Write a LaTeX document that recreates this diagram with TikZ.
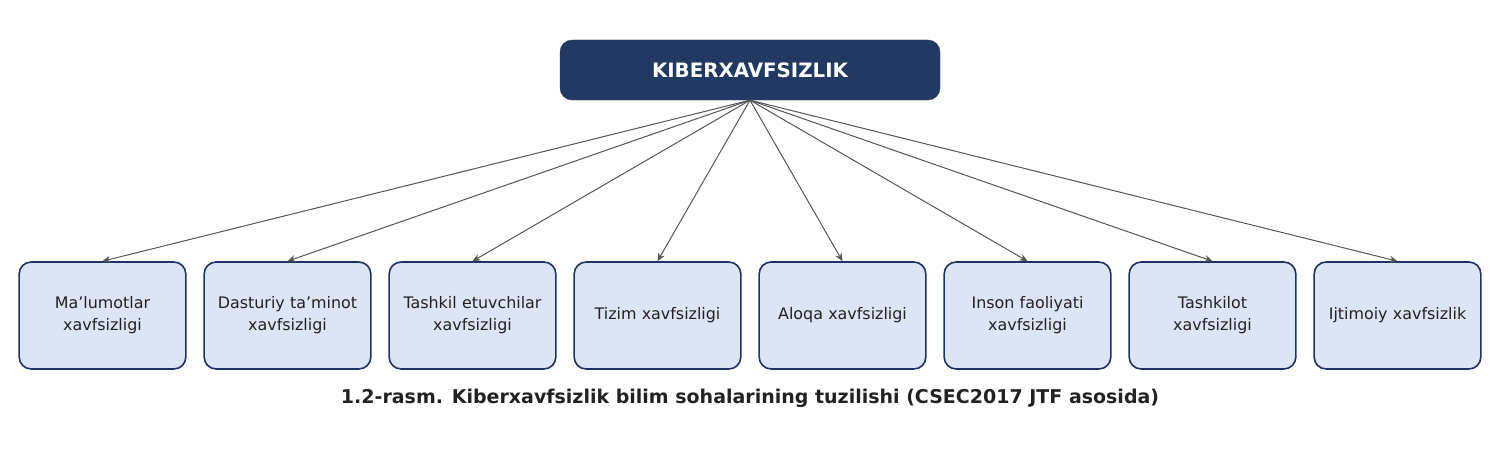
\documentclass[tikz,border=0pt]{standalone}
\usepackage{fontspec}
\setmainfont{DejaVu Sans}
\usetikzlibrary{arrows.meta}
\definecolor{navy}{HTML}{213963}
\definecolor{boxfill}{HTML}{DCE5F5}
\definecolor{boxline}{HTML}{1F3264}
\definecolor{arrowgrey}{HTML}{555555}
\definecolor{textdark}{HTML}{222222}
\tikzset{
    rootbox/.style={rectangle, rounded corners=12pt, fill=navy, draw=navy, text=white,
        minimum width=380pt, minimum height=60pt, font=\fontsize{19.8}{23}\selectfont\bfseries},
    areabox/.style={rectangle, rounded corners=12pt, fill=boxfill, draw=boxline, line width=1.6pt,
        minimum width=163pt, minimum height=107pt, text width=160pt, align=center,
        text=textdark, font=\fontsize{15.9}{22}\selectfont},
    link/.style={-{Stealth[length=8pt, width=7pt]}, draw=arrowgrey, line width=1pt}
}
\begin{document}
\begin{tikzpicture}[x=1pt, y=-1pt]
        \useasboundingbox (0, 0) rectangle (1500, 460);

        % Oberster Knoten
        \node[rootbox] (K) at (750, 70) {KIBERXAVFSIZLIK};

        % Bereiche
        \node[areabox] (A1) at (102.5, 315.5) {Ma’lumotlar\\xavfsizligi};
        \node[areabox] (A2) at (287.5, 315.5) {Dasturiy ta’minot\\xavfsizligi};
        \node[areabox] (A3) at (472.5, 315.5) {Tashkil etuvchilar\\xavfsizligi};
        \node[areabox] (A4) at (657.5, 315.5) {Tizim xavfsizligi};
        \node[areabox] (A5) at (842.5, 315.5) {Aloqa xavfsizligi};
        \node[areabox] (A6) at (1027.5, 315.5) {Inson faoliyati\\xavfsizligi};
        \node[areabox] (A7) at (1212.5, 315.5) {Tashkilot\\xavfsizligi};
        \node[areabox] (A8) at (1397.5, 315.5) {Ijtimoiy xavfsizlik};

        % Pfeile vom obersten Knoten zu den Bereichen
        \foreach \i in {1,...,8}
            \draw[link] (K.south) -- (A\i.north);

        % Bildunterschrift
        \node[text=textdark, font=\fontsize{19}{22}\selectfont\bfseries] (C) at (750, 398) {1.2-rasm. Kiberxavfsizlik bilim sohalarining tuzilishi (CSEC2017 JTF asosida)};

    \end{tikzpicture}
\end{document}
